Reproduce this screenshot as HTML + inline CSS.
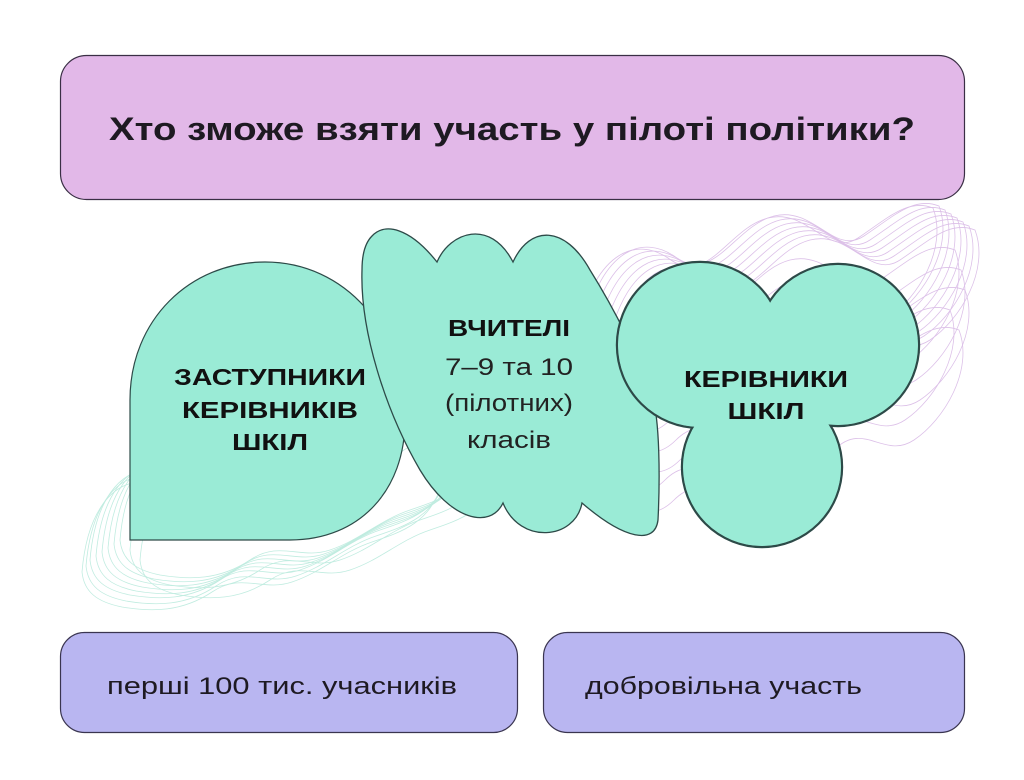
<!DOCTYPE html>
<html><head><meta charset="utf-8"><style>
html,body{margin:0;padding:0;background:#fff}
svg{display:block}
text{font-family:"Liberation Sans",sans-serif}
</style></head><body>
<svg width="1024" height="780" viewBox="0 0 1024 780" xmlns="http://www.w3.org/2000/svg">
<defs>
<path id="pw" d="M590,330 C610,250 650,240 680,260 C720,290 740,230 780,220 C820,210 840,260 870,240 C900,220 920,200 945,210 C960,250 930,300 900,320 C870,340 850,300 820,330 C790,360 770,330 740,360 C710,390 690,350 660,380 C630,410 600,380 590,330 Z" fill="none" stroke="#dcc0e8" stroke-width="0.8"/>
<path id="gw" d="M90,560 C95,500 120,470 150,470 C180,470 190,500 220,480 C250,460 280,450 310,460 C340,470 360,440 390,430 C420,420 440,440 450,470 C440,510 410,520 380,530 C350,540 330,560 300,570 C270,580 250,560 220,580 C190,600 160,600 130,595 C105,590 92,580 90,560 Z" fill="none" stroke="#c0ece0" stroke-width="0.8"/>
</defs>
<g>
<use href="#pw"/><use href="#pw" transform="translate(6,4)"/><use href="#pw" transform="translate(12,8)"/><use href="#pw" transform="translate(18,12)"/><use href="#pw" transform="translate(24,16)"/><use href="#pw" transform="translate(30,20)"/><use href="#pw" transform="translate(-6,-4)"/><use href="#pw" transform="translate(-12,-2)"/><use href="#pw" transform="translate(10,40)"/><use href="#pw" transform="translate(16,60)"/><use href="#pw" transform="translate(20,80)"/><use href="#pw" transform="translate(5,100)"/><use href="#pw" transform="translate(14,120)"/>
<use href="#gw"/><use href="#gw" transform="translate(6,-4)"/><use href="#gw" transform="translate(12,-8)"/><use href="#gw" transform="translate(18,-12)"/><use href="#gw" transform="translate(24,-16)"/><use href="#gw" transform="translate(-4,6)"/><use href="#gw" transform="translate(-8,12)"/><use href="#gw" transform="translate(30,-20)"/><use href="#gw" transform="translate(40,-10)"/><use href="#gw" transform="translate(50,0)"/>
</g>
<rect x="60.5" y="55.5" width="904" height="144" rx="26" fill="#e2b8e8" stroke="#3a2f45" stroke-width="1.2"/>
<text x="512" y="140" text-anchor="middle" font-size="32" font-weight="bold" fill="#1e1a22" textLength="806" lengthAdjust="spacingAndGlyphs">Хто зможе взяти участь у пілоті політики?</text>

<path d="M130,540 L130,400 C130,320 190,262 265,262 C345,262 405,330 405,420 C405,490 360,540 290,540 Z" fill="#9aebd6" stroke="#2d4a48" stroke-width="1.2"/>
<path d="M372,236 C385,222 410,228 437,262 C450,232 490,218 513,262 C530,225 565,225 590,270 C615,310 640,360 652,395 C660,420 660,480 658,520 C655,545 625,540 582,503 C575,540 520,545 503,503 C490,530 450,520 420,470 C385,410 360,330 362,270 C362,255 365,243 372,236 Z" fill="#9aebd6" stroke="#2d4a48" stroke-width="1.3"/>
<g stroke="#2d4a48" stroke-width="2.4" fill="#9aebd6">
<circle cx="700" cy="345" r="83"/><circle cx="838" cy="345" r="81"/><circle cx="762" cy="467" r="80"/>
</g>
<g fill="#9aebd6">
<circle cx="700" cy="345" r="82"/><circle cx="838" cy="345" r="80"/><circle cx="762" cy="467" r="79"/>
<rect x="700" y="380" width="120" height="60"/>
</g>

<g font-weight="bold" font-size="23" fill="#111" text-anchor="middle">
<text x="270" y="385" textLength="192" lengthAdjust="spacingAndGlyphs">ЗАСТУПНИКИ</text>
<text x="270" y="418" textLength="176" lengthAdjust="spacingAndGlyphs">КЕРІВНИКІВ</text>
<text x="270" y="450" textLength="76" lengthAdjust="spacingAndGlyphs">ШКІЛ</text>
<text x="509" y="336" textLength="122" lengthAdjust="spacingAndGlyphs">ВЧИТЕЛІ</text>
<text x="766" y="387" textLength="164" lengthAdjust="spacingAndGlyphs">КЕРІВНИКИ</text>
<text x="766" y="419" textLength="77" lengthAdjust="spacingAndGlyphs">ШКІЛ</text>
</g>
<g font-size="24" fill="#222" text-anchor="middle">
<text x="509" y="375" textLength="128" lengthAdjust="spacingAndGlyphs">7–9 та 10</text>
<text x="509" y="411" textLength="128" lengthAdjust="spacingAndGlyphs">(пілотних)</text>
<text x="509" y="448" textLength="84" lengthAdjust="spacingAndGlyphs">класів</text>
</g>

<rect x="60.5" y="632.5" width="457" height="100" rx="24" fill="#b9b6f1" stroke="#3a3550" stroke-width="1.2"/>
<rect x="543.5" y="632.5" width="421" height="100" rx="24" fill="#b9b6f1" stroke="#3a3550" stroke-width="1.2"/>
<text x="107" y="694" font-size="24" fill="#1e1a22" textLength="350" lengthAdjust="spacingAndGlyphs">перші 100 тис. учасників</text>
<text x="585" y="694" font-size="24" fill="#1e1a22" textLength="277" lengthAdjust="spacingAndGlyphs">добровільна участь</text>
</svg>
</body></html>
